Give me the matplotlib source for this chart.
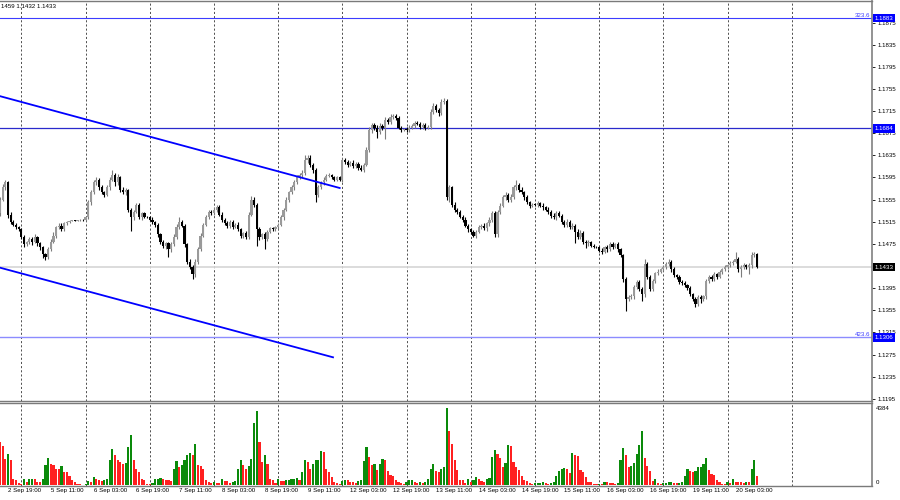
import numpy as np
import matplotlib
matplotlib.use("Agg")
import matplotlib.pyplot as plt

plt.rcParams["font.family"] = ["Liberation Sans", "DejaVu Sans"]

# GBPUSD H1, bars from 2 Sep 16:00 to 20 Sep 11:00
# prices are pips above 1.1000
first_open = 530
closes = [
    555, 577, 586, 528, 515, 510, 505, 501,
    487, 474, 478, 483, 479, 487, 476, 469, 456, 451, 465, 479, 490, 505, 508, 501, 512, 515, 517, 518, 517, 518, 519, 518,
    523, 550, 568, 586, 591, 577, 568, 564, 577, 591, 600, 586, 595, 573, 568, 573, 537, 523, 533, 546, 523, 530, 524, 523,
    519, 514, 510, 492, 478, 472, 476, 465, 474, 487, 505, 515, 508, 474, 443, 433, 420, 442, 465, 490, 510, 523, 533, 531,
    537, 542, 528, 519, 512, 508, 515, 506, 510, 501, 490, 494, 487, 528, 555, 546, 501, 487, 492, 483, 497, 503, 501, 505,
    510, 523, 537, 555, 568, 577, 587, 595, 600, 604, 627, 631, 618, 609, 564, 577, 586, 591, 598, 600, 595, 591, 595, 591,
    627, 623, 618, 622, 616, 620, 613, 609, 618, 645, 681, 690, 685, 677, 688, 685, 699, 695, 704, 706, 703, 685, 681, 683,
    681, 685, 688, 694, 692, 686, 690, 685, 686, 713, 724, 717, 712, 731, 733, 559, 577, 546, 537, 533, 524, 519, 508, 501,
    496, 490, 497, 505, 508, 503, 512, 519, 530, 492, 533, 544, 559, 564, 555, 560, 577, 582, 573, 568, 559, 550, 544, 546,
    546, 548, 544, 541, 537, 533, 526, 523, 530, 526, 515, 510, 515, 505, 508, 497, 487, 494, 479, 476, 478, 472, 470, 469,
    463, 461, 469, 465, 474, 470, 474, 465, 454, 411, 375, 379, 380, 397, 406, 393, 384, 438, 415, 393, 407, 422, 425, 429,
    433, 438, 443, 429, 418, 415, 406, 404, 400, 395, 384, 375, 366, 379, 375, 380, 407, 415, 411, 420, 416, 424, 429, 433,
    436, 440, 443, 447, 429, 433, 436, 433, 436, 454, 457, 433,
]
upper_wick = [
    4, 6, 5, 3, 4, 3, 2, 3,
    3, 4, 3, 5, 4, 6, 3, 2, 3, 2, 5, 4, 6, 3, 4, 5, 3, 2, 2, 1, 1, 1, 1, 1,
    2, 4, 5, 4, 5, 3, 4, 3, 5, 4, 9, 4, 6, 3, 4, 3, 2, 3, 4, 3, 3, 2, 3, 2,
    3, 4, 3, 2, 3, 4, 3, 3, 4, 5, 6, 8, 4, 3, 3, 4, 3, 5, 4, 4, 3, 4, 3, 4,
    4, 3, 3, 4, 3, 4, 3, 3, 2, 4, 3, 3, 4, 5, 6, 5, 3, 4, 3, 4, 3, 3, 2, 3,
    3, 4, 3, 4, 3, 4, 3, 4, 3, 4, 9, 5, 4, 3, 3, 4, 3, 4, 3, 3, 2, 3, 2, 2,
    4, 3, 4, 3, 4, 3, 3, 4, 3, 5, 6, 4, 3, 4, 5, 3, 6, 4, 5, 4, 3, 3, 3, 2,
    3, 4, 3, 4, 3, 3, 4, 3, 4, 5, 6, 4, 3, 6, 6, 3, 4, 3, 4, 3, 4, 3, 4, 3,
    3, 4, 3, 4, 3, 4, 3, 4, 5, 4, 3, 5, 4, 4, 3, 5, 4, 9, 3, 4, 3, 4, 3, 3,
    3, 4, 3, 4, 3, 4, 3, 4, 5, 4, 3, 4, 5, 3, 4, 3, 4, 6, 4, 3, 4, 3, 3, 2,
    3, 4, 3, 4, 5, 4, 3, 4, 3, 3, 4, 3, 4, 3, 4, 3, 4, 9, 4, 3, 4, 3, 4, 3,
    3, 4, 5, 3, 4, 3, 4, 3, 4, 3, 4, 3, 4, 3, 4, 3, 5, 4, 3, 4, 3, 4, 3, 4,
    3, 4, 3, 14, 4, 3, 4, 3, 4, 6, 3, 2,
]
lower_wick = [
    5, 3, 4, 6, 4, 3, 3, 2,
    4, 5, 3, 4, 6, 3, 4, 5, 6, 6, 4, 3, 3, 5, 4, 3, 3, 2, 2, 1, 1, 1, 1, 1,
    2, 3, 4, 3, 4, 5, 3, 4, 3, 4, 3, 6, 5, 4, 3, 4, 5, 25, 4, 3, 3, 4, 3, 2,
    3, 3, 4, 5, 4, 4, 6, 13, 4, 3, 3, 4, 3, 5, 4, 4, 9, 4, 3, 3, 3, 2, 3, 3,
    3, 4, 3, 4, 3, 4, 5, 4, 3, 3, 4, 5, 4, 3, 3, 4, 30, 5, 4, 18, 3, 3, 2, 3,
    4, 3, 4, 3, 4, 3, 4, 3, 3, 4, 4, 5, 4, 6, 13, 4, 3, 4, 3, 3, 3, 2, 3, 2,
    4, 3, 4, 3, 4, 3, 4, 3, 4, 3, 4, 5, 4, 11, 3, 4, 20, 4, 3, 4, 4, 3, 3, 2,
    3, 4, 3, 4, 3, 4, 3, 4, 3, 4, 3, 4, 5, 4, 3, 4, 9, 4, 5, 4, 3, 4, 3, 4,
    4, 3, 4, 3, 4, 3, 4, 5, 4, 4, 5, 4, 3, 4, 5, 4, 3, 5, 4, 3, 4, 3, 4, 3,
    3, 4, 3, 4, 3, 4, 5, 3, 4, 3, 4, 5, 4, 3, 4, 20, 4, 3, 4, 8, 4, 3, 3, 2,
    3, 4, 3, 4, 3, 4, 3, 4, 3, 5, 22, 4, 3, 4, 3, 4, 12, 5, 4, 3, 4, 3, 4, 3,
    3, 4, 3, 4, 3, 4, 3, 4, 3, 4, 3, 4, 5, 4, 6, 3, 4, 3, 4, 3, 4, 3, 4, 3,
    4, 3, 4, 3, 4, 14, 3, 4, 12, 4, 3, 1,
]
volumes = [
    2430, 2240, 1500, 1780, 1400, 370, 280, 95,
    55, 370, 190, 320, 335, 320, 190, 170, 370, 1120, 1550, 1215, 1120, 935, 900, 1065, 750, 730, 505, 280, 150, 55, 40, 20,
    55, 225, 150, 430, 320, 260, 225, 260, 355, 1440, 2040, 1680, 1440, 1310, 1215, 1250, 2150, 2840, 1400, 935, 730, 370, 260, 55,
    50, 130, 320, 370, 380, 320, 310, 280, 240, 935, 1350, 1030, 1120, 1440, 1680, 1810, 1680, 2340, 1160, 1065, 935, 280, 190, 130,
    150, 130, 120, 320, 225, 220, 130, 190, 225, 935, 1440, 1120, 935, 1065, 1500, 3550, 4200, 2430, 1310, 1680, 1215, 370, 280, 95,
    370, 240, 225, 280, 300, 320, 335, 390, 280, 750, 1400, 1310, 935, 1215, 1440, 1450, 1960, 1900, 935, 750, 470, 190, 130, 55,
    200, 280, 270, 190, 180, 130, 225, 280, 1350, 2150, 1620, 1120, 1180, 840, 1180, 1500, 1400, 785, 560, 500, 280, 150, 95, 60,
    190, 280, 300, 190, 130, 190, 130, 190, 370, 935, 1215, 785, 750, 935, 1030, 4384, 3080, 2330, 1400, 840, 280, 270, 130, 320,
    190, 280, 470, 370, 220, 190, 370, 380, 1620, 2000, 1770, 1550, 1030, 1250, 2280, 2200, 1310, 1030, 840, 500, 280, 220, 90, 60,
    90, 130, 135, 170, 90, 60, 95, 190, 500, 780, 930, 970, 935, 690, 1810, 1680, 1670, 840, 750, 470, 190, 150, 60, 40,
    60, 40, 190, 170, 130, 95, 75, 130, 1440, 2090, 1720, 1030, 1080, 1250, 1770, 2300, 3080, 1550, 1060, 800, 220, 370, 95, 40,
    90, 130, 150, 170, 130, 110, 130, 190, 500, 930, 780, 740, 800, 1030, 1040, 1180, 1550, 880, 620, 560, 280, 190, 60, 40,
    190, 130, 320, 190, 170, 165, 130, 190, 170, 930, 1440, 500,
]

time_labels = ["2 Sep 19:00", "5 Sep 11:00", "6 Sep 03:00", "6 Sep 19:00", "7 Sep 11:00",
               "8 Sep 03:00", "8 Sep 19:00", "9 Sep 11:00", "12 Sep 03:00", "12 Sep 19:00",
               "13 Sep 11:00", "14 Sep 03:00", "14 Sep 19:00", "15 Sep 11:00", "16 Sep 03:00",
               "16 Sep 19:00", "19 Sep 11:00", "20 Sep 03:00"]

price_ticks = [1.1195, 1.1235, 1.1275, 1.1315, 1.1355, 1.1395, 1.1475, 1.1515, 1.1555,
               1.1595, 1.1635, 1.1675, 1.1715, 1.1755, 1.1795, 1.1835, 1.1875]
fib_prices = [1.1883, 1.1306]
fib_texts = ["323.6", "423.6"]
level_price = 1.1684
last_price = 1.1433
header = "1459 1.1432 1.1433"

upper_trend_bar = [-3, 124]
upper_trend_price = [1.1742, 1.1576]
lower_trend_bar = [-3, 121.5]
lower_trend_price = [1.1432, 1.1270]

vol_max = 4384

# ---- build OHLC ----
first_bar = -3
bars = np.arange(first_bar, first_bar + len(closes))
c = 1.1 + np.array(closes) / 10000
o = np.r_[1.1 + first_open / 10000, c[:-1]]
hi = np.maximum(o, c) + np.array(upper_wick) / 10000
lo = np.minimum(o, c) - np.array(lower_wick) / 10000
bull = c > o
vol = np.array(volumes)
vol_up = np.r_[False, vol[1:] > vol[:-1]]

fig = plt.figure(figsize=(9, 5), dpi=100)
ax = fig.add_axes([0, 0.198, 0.9689, 0.800])
vax = fig.add_axes([0, 0.028, 0.9689, 0.166])

xlim = (-2.99, 323.0)
grid_bars = np.arange(5, 294, 24)
label_bars = np.arange(len(time_labels)) * 16

for a in (ax, vax):
    for g in grid_bars:
        a.axvline(g, color="#333333", lw=0.6, ls=(0, (2.5, 2.5)), zorder=0)
    a.set_xlim(*xlim)
    a.spines["left"].set_visible(False)
    for s in ("top", "bottom"):
        a.spines[s].set_color("#7a7a7a")
        a.spines[s].set_linewidth(1.0)
    a.spines["right"].set_color("#8a8a8a")
    a.spines["right"].set_linewidth(1.3)

# price levels
ax.axhline(last_price, color="#d9d9d9", lw=1.3, zorder=0.5)
ax.axhline(fib_prices[0], color="#3c3cff", lw=0.8, zorder=1)
ax.axhline(level_price, color="#2a2acc", lw=0.9, zorder=1)
ax.axhline(fib_prices[1], color="#8c8cff", lw=1.0, zorder=1)

# candles
ax.vlines(bars[bull], lo[bull], hi[bull], color="#7c7c7c", lw=0.8, zorder=2)
ax.vlines(bars[~bull], lo[~bull], hi[~bull], color="black", lw=0.8, zorder=2)
body = np.maximum(np.abs(c - o), 0.00006)
ax.bar(bars, body, bottom=np.minimum(o, c), width=0.82,
       color=np.where(bull, "#9a9a9a", "black"), linewidth=0, zorder=3)

# trend lines
ax.plot(upper_trend_bar, upper_trend_price, color="#0000ff", lw=1.3, zorder=4)
ax.plot(lower_trend_bar, lower_trend_price, color="#0000ff", lw=1.3, zorder=4)

ax.set_ylim(1.1191, 1.1914)
ax.set_xticks([])
ax.yaxis.tick_right()
ax.set_yticks(price_ticks)
ax.yaxis.set_major_formatter(matplotlib.ticker.FormatStrFormatter("%.4f"))
ax.tick_params(axis="y", length=2.5, width=0.6, pad=1.2, labelsize=4.4, colors="black")

ytr = ax.get_yaxis_transform()
for p, t in zip(fib_prices, fib_texts):
    ax.text(0.998, p, t, transform=ytr, ha="right", va="bottom", fontsize=4.4, color="#3c3cff")
for p, fc in ((fib_prices[0], "#0000ff"), (level_price, "#0000ff"),
              (fib_prices[1], "#0000ff"), (last_price, "black")):
    ax.text(1.003, p, f"{p:.4f}", transform=ytr, ha="left", va="center", fontsize=4.4,
            color="white", clip_on=False, zorder=10,
            bbox=dict(boxstyle="square,pad=0.3", fc=fc, ec="none"))

# volumes
vax.bar(bars, vol, width=0.8, color=np.where(vol_up, "#0a8a0a", "#ff2020"), linewidth=0, zorder=2)
vax.set_ylim(-57, 4669)
vax.set_yticks([])
vtr = vax.get_yaxis_transform()
vax.text(1.004, vol_max, str(vol_max), transform=vtr, ha="left", va="center", fontsize=4.4)
vax.text(1.004, 0, "0", transform=vtr, ha="left", va="bottom", fontsize=4.4)
vax.set_xticks(label_bars)
vax.set_xticklabels(time_labels, ha="left", fontsize=4.4)
vax.tick_params(axis="x", length=0, pad=1.5)

fig.text(0.001, 1 - 7 / 500, header, ha="left", va="center", fontsize=4.4)

fig.savefig("out.png", dpi=100)
